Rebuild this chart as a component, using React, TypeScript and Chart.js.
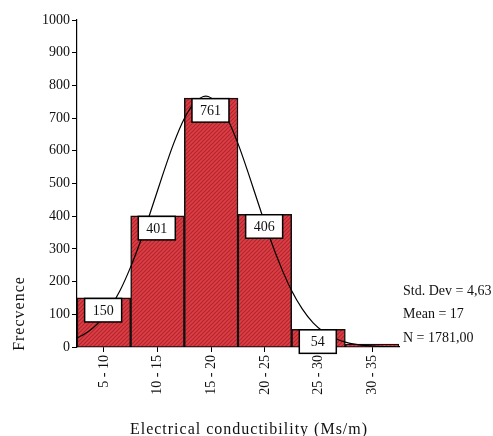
import React, { useEffect, useRef } from "react";
import { Chart, registerables } from "chart.js";

Chart.register(...registerables);

const categories = ["5 - 10", "10 - 15", "15 - 20", "20 - 25", "25 - 30", "30 - 35"];
const frequencies = [150, 401, 761, 406, 54, 9];
const curveX = [5, 6, 7, 8, 9, 10, 11, 12, 13, 14, 15, 16, 17, 18, 19, 20, 21, 22, 23, 24, 25, 26, 27, 28, 29, 30, 31, 32, 33, 34, 35];
const curveY = [27, 46, 74, 116, 172, 245, 331, 428, 528, 622, 699, 749, 767, 749, 699, 622, 528, 428, 331, 245, 172, 116, 74, 46, 27, 15, 8, 4, 2, 1, 0];
const statsLines = ["Std. Dev = 4,63", "Mean = 17", "N = 1781,00"];
const xTitle = "Electrical conductibility (Ms/m)";
const yTitle = "Frecvence";

const FONT = "'Liberation Serif', 'Times New Roman', serif";

function makePattern(): CanvasPattern | string {
  const c = document.createElement("canvas");
  c.width = 4;
  c.height = 4;
  const g = c.getContext("2d");
  if (!g) return "#d4383f";
  g.fillStyle = "#dc3f46";
  g.fillRect(0, 0, 4, 4);
  g.strokeStyle = "#b3262d";
  g.lineWidth = 1.2;
  g.beginPath();
  g.moveTo(-1, 5);
  g.lineTo(5, -1);
  g.moveTo(-1, 1);
  g.lineTo(1, -1);
  g.moveTo(3, 5);
  g.lineTo(5, 3);
  g.stroke();
  const p = g.createPattern(c, "repeat");
  return p || "#d4383f";
}

export default function App() {
  const ref = useRef<HTMLCanvasElement | null>(null);
  useEffect(() => {
    if (!ref.current) return;
    const pattern = makePattern();
    const overlay = {
      id: "overlay",
      afterDatasetsDraw(chart: any) {
        const ctx = chart.ctx;
        const meta = chart.getDatasetMeta(0);
        ctx.save();
        ctx.font = `14px ${FONT}`;
        ctx.textAlign = "center";
        ctx.textBaseline = "middle";
        meta.data.forEach((el: any, i: number) => {
          if (i >= 5) return;
          const w = 37;
          const h = 23.5;
          const x = el.x - 0.7 - w / 2;
          const y = el.y + 0.5;
          ctx.fillStyle = "#fff";
          ctx.fillRect(x, y, w, h);
          ctx.strokeStyle = "#000";
          ctx.lineWidth = 1.5;
          ctx.strokeRect(x, y, w, h);
          ctx.fillStyle = "#111";
          ctx.fillText(String(frequencies[i]), el.x - 0.7, y + h / 2 + 1);
        });
        ctx.restore();
      },
      afterDraw(chart: any) {
        const ctx = chart.ctx;
        const area = chart.chartArea;
        ctx.save();
        ctx.fillStyle = "#111";
        ctx.font = `14px ${FONT}`;
        ctx.textAlign = "left";
        ctx.textBaseline = "alphabetic";
        statsLines.forEach((t, i) => {
          ctx.fillText(t, area.right + 4, 295 + i * 23.3);
        });
        ctx.font = `16px ${FONT}`;
        try {
          (ctx as any).letterSpacing = "1px";
        } catch (e) {}
        ctx.textAlign = "center";
        ctx.fillText(xTitle, 249, 434);
        ctx.translate(23.5, 313.5);
        ctx.rotate(-Math.PI / 2);
        ctx.fillText(yTitle, 0, 0);
        ctx.restore();
      },
    };
    const chart = new Chart(ref.current, {
      type: "bar",
      data: {
        labels: categories,
        datasets: [
          {
            type: "bar",
            data: frequencies,
            backgroundColor: pattern as any,
            borderColor: "#111",
            borderWidth: 1.5,
            barPercentage: 1,
            categoryPercentage: 1,
            grouped: false,
            order: 1,
            xAxisID: "x",
          } as any,
          {
            type: "line",
            data: curveX.map((x, i) => ({ x, y: curveY[i] })),
            borderColor: "#000",
            borderWidth: 1.2,
            pointRadius: 0,
            tension: 0.3,
            fill: false,
            order: 0,
            xAxisID: "x2",
          } as any,
        ],
      },
      plugins: [overlay],
      options: {
        animation: false,
        responsive: true,
        maintainAspectRatio: false,
        layout: { padding: { left: 0, right: 94, top: 20, bottom: 0 } },
        plugins: { legend: { display: false }, tooltip: { enabled: false } },
        scales: {
          x: {
            type: "category",
            offset: true,
            grid: { offset: false, drawOnChartArea: false, drawTicks: true, tickLength: 5, color: "#000", lineWidth: 1 },
            border: { display: true, color: "#000", width: 1.2 },
            ticks: { minRotation: 90, maxRotation: 90, padding: 3, color: "#111", font: { family: FONT, size: 14 } },
            afterFit: (s: any) => {
              s.height = 89;
            },
          },
          x2: { type: "linear", min: 5, max: 35, offset: false, display: false },
          y: {
            min: 0,
            max: 1000,
            ticks: {
              stepSize: 100,
              padding: 2,
              color: "#111",
              font: { family: FONT, size: 14 },
              callback: (v: any) => String(v),
            },
            grid: { drawOnChartArea: false, drawTicks: true, tickLength: 5, color: "#000", lineWidth: 1 },
            border: { display: true, color: "#000", width: 1.2 },
            afterFit: (s: any) => {
              s.width = 77;
            },
          },
        },
      } as any,
    });
    return () => chart.destroy();
  }, []);
  return (
    <div style={{ position: "fixed", left: 0, top: 0, width: 493, height: 436, background: "#fff" }}>
      <canvas ref={ref} />
    </div>
  );
}
